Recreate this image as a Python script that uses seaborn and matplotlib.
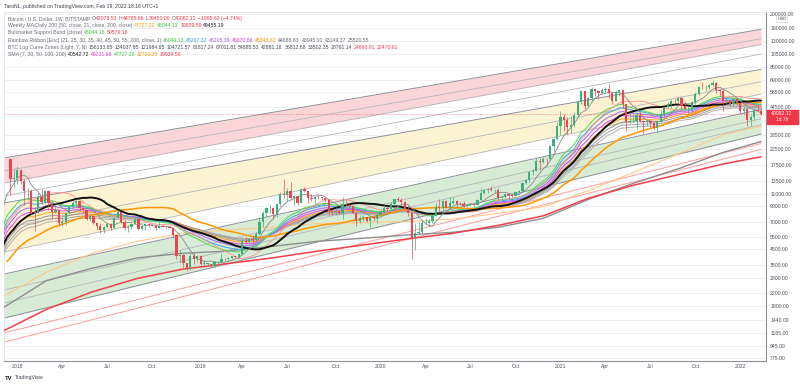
import matplotlib
matplotlib.use("Agg")
import matplotlib.pyplot as plt
from matplotlib.patches import Rectangle
from matplotlib import ticker
import numpy as np
import pandas as pd
import seaborn as sns

# --- weekly closes of 2017 (only used to warm up the moving averages) ---
close_2017 = [910, 820, 925, 915, 1015, 1000, 1050, 1180, 1270, 1230, 970, 970,
              1100, 1190, 1180, 1240, 1350, 1590, 1770, 2050, 2150, 2520, 2950, 2520,
              2450, 2500, 2500, 1930, 2750, 2750, 3230, 4050, 4100, 4350, 4600, 4150,
              3700, 3650, 4400, 4600, 5700, 6000, 6150, 7400, 5950, 8050, 9300, 11300,
              15000, 19100]

# --- weekly candles, first week starts 2017-12-18 (BTCUSD, Bitstamp, 1W) ---
week_high = [
    19200, 16500,
    17200, 16300, 14000, 12000, 11900, 8900, 11200, 11800, 11700, 11700, 9900, 9100, 8500,
    7500, 8200, 9000, 9800, 9900, 9700, 8900, 8500, 7750, 7800, 6900, 6850, 6500,
    6800, 6800, 7600, 8500, 8200, 7150, 6600, 6900, 7400, 7400, 6600, 6800, 6800,
    6650, 6650, 7000, 6600, 6500, 6550, 6400, 5600, 4400, 4150, 3600, 4200, 4250, 4100,
    4100, 3750, 3600, 3550, 3700, 3700, 4200, 3900, 3950, 4050, 4050, 4150,
    5300, 5450, 5400, 5650, 5900, 7500, 8300, 8900, 9100, 8800, 9400, 11300, 13900,
    12000, 13200, 10800, 10650, 11900, 12300, 11550, 10950, 10650, 10900, 10450, 10300, 10050,
    8600, 8800, 8400, 10500, 9900, 9500, 9100, 8200, 7850, 7750, 7600, 7500, 7700, 8050,
    8450, 9200, 9000, 9600, 10150, 10500, 10250, 9700, 9200, 8150, 6900, 6950,
    7200, 7450, 7300, 7750, 9450, 10050, 9900, 9850, 10400, 10350, 9950, 9550, 9800,
    9300, 9450, 9350, 10100, 12100, 11800, 12100, 12450, 11800, 12100, 10800, 11100, 10950,
    10950, 11500, 11700, 13350, 14000, 15950, 16500, 19400, 19450, 19900, 19400, 24300, 26900, 34800,
    41950, 40000, 37850, 38500, 41000, 49700, 58300, 57500, 52600, 61700, 60700, 58400,
    60100, 61200, 64900, 57000, 58400, 59500, 59600, 46600, 40900, 39500, 41300, 41100, 36000,
    36600, 35300, 34800, 34500, 42600, 44800, 48100, 50500, 50500, 52900, 52900, 48800, 45000,
    49200, 56600, 62900, 67000, 63700, 64300, 69000, 66300, 59300, 59200, 51900, 50200, 51900, 52100,
    47600, 44500, 43500, 38900, 42600, 45800, 44785.66]
week_low = [
    10800, 12000,
    12800, 12800, 9200, 10000, 7900, 6000, 8000, 9300, 9400, 8400, 7300, 8100, 6500,
    6500, 6600, 7900, 8700, 8900, 8300, 8000, 7200, 7100, 6700, 6100, 5800, 5800,
    6300, 6100, 6350, 7400, 6900, 6100, 5900, 6200, 6700, 6150, 6150, 6100, 6450,
    6500, 6150, 6300, 6400, 6300, 6300, 5500, 3800, 3600, 3350, 3150, 3200, 3550, 3650,
    3500, 3500, 3450, 3350, 3350, 3550, 3650, 3700, 3700, 3850, 3900, 3900,
    4100, 4900, 5000, 4950, 5150, 5650, 6400, 7500, 8000, 7450, 7550, 9000, 10300,
    9700, 10100, 9100, 9100, 9400, 11300, 9500, 9800, 9300, 10100, 9900, 9650, 7800,
    7750, 7800, 7900, 7300, 9000, 8700, 8000, 6500, 6800, 7100, 7000, 6450, 7050, 6850,
    7700, 8100, 8250, 8500, 9100, 9700, 9300, 8450, 7700, 3850, 4450, 5700,
    5850, 6750, 6500, 6800, 7650, 8100, 8200, 8700, 8650, 9250, 8900, 9200, 8900,
    8900, 9050, 9000, 9150, 9950, 11000, 11150, 11400, 11100, 9900, 9850, 10250, 10150,
    10400, 10550, 11200, 11400, 12950, 13250, 14800, 15750, 16200, 18100, 17600, 19000, 22000, 26100,
    28200, 30400, 28800, 29300, 32300, 37900, 47000, 43000, 44950, 49200, 53200, 50400,
    55400, 55500, 51500, 47000, 48800, 53000, 43800, 30000, 34200, 34800, 31000, 34800, 28800,
    32700, 32100, 31100, 29300, 35200, 37500, 43800, 43900, 46400, 46500, 42800, 42900, 39600,
    40800, 46900, 53900, 59500, 58000, 59500, 62300, 55600, 53300, 42000, 47100, 45600, 45600, 45700,
    40600, 39700, 33000, 32900, 36300, 41600, 39450.00]
week_close = [
    13900, 14100,
    16200, 13600, 11500, 11500, 8200, 8100, 10400, 9600, 11500, 9500, 8200, 8500, 6800,
    7000, 8000, 8900, 9400, 9700, 8700, 8500, 7350, 7700, 6800, 6500, 6150, 6400,
    6750, 6350, 7400, 8200, 7000, 6300, 6400, 6700, 7250, 6250, 6500, 6700, 6600,
    6550, 6300, 6500, 6450, 6400, 6350, 5600, 4000, 4100, 3600, 3250, 4000, 3850, 4050,
    3550, 3550, 3550, 3400, 3650, 3650, 3850, 3800, 3900, 4000, 3950, 4150,
    5150, 5050, 5300, 5200, 5750, 6950, 8100, 8700, 8700, 7900, 9350, 10850, 10800,
    11450, 10200, 10600, 9500, 11800, 11550, 10300, 10150, 10500, 10350, 10300, 10000, 8300,
    8150, 8300, 8000, 9250, 9200, 9050, 8100, 7050, 7400, 7500, 7100, 7500, 7400, 7750,
    8200, 8700, 8600, 9300, 10150, 9900, 9650, 8550, 8050, 5350, 5850, 5900,
    6800, 6900, 7100, 7700, 8900, 8750, 9700, 8700, 9450, 9750, 9350, 9300, 9000,
    9100, 9250, 9200, 9950, 11150, 11700, 11900, 11650, 11700, 10250, 10350, 10950, 10750,
    10650, 11350, 11500, 13050, 13750, 15480, 15950, 18700, 18200, 19350, 19250, 23850, 26450, 33000,
    38200, 36000, 32100, 33500, 38900, 48600, 57400, 45200, 51200, 59400, 57500, 55800,
    58200, 60000, 56200, 49100, 56400, 58300, 46500, 34700, 35600, 35800, 39100, 35500, 34700,
    35300, 34200, 31800, 35400, 39800, 44400, 47100, 49300, 48800, 51800, 45200, 43000, 43200,
    48200, 54700, 61500, 61300, 61300, 63300, 65500, 58700, 57300, 49400, 50100, 46700, 50800, 47300,
    41900, 43100, 36300, 38200, 42400, 42077.74, 40082.12]

# --- slow averages (quarterly samples) ---
slow_dates = ["2017-12-04", "2018-03-01", "2018-06-01", "2018-09-01", "2018-12-01",
              "2019-03-01", "2019-06-01", "2019-09-01", "2019-12-01", "2020-03-01",
              "2020-06-01", "2020-09-01", "2020-12-01", "2021-03-01", "2021-06-01",
              "2021-09-01", "2021-12-01", "2022-02-14"]
sma200_w = [1200, 1700, 2250, 2800, 3250, 3550, 3900, 4350, 4800, 5300,
            5800, 6600, 7700, 10200, 12600, 15000, 17800, 19939.59]
ema200_w = [1750, 2700, 3300, 3900, 4200, 4350, 4700, 5100, 5350, 5650,
            5900, 6400, 7400, 10000, 13000, 16500, 21500, 25520.55]
sma100_w = [2100, 3100, 4200, 5100, 5800, 6100, 6400, 6800, 6900, 7000,
            7300, 8000, 8900, 11500, 15500, 21000, 28500, 32720.35]

# --- BTC log curve zones: value at left edge / value now ---
curve_start = [19550, 15850, 13060, 10590, 9460, 6310, 4290,
               3005, 2320, 1880, 1475, 1160, 1000]
curve_end = [156133.65, 134037.85, 121984.65, 104721.57, 81817.24, 67011.81, 54885.53,
             42881.16, 36812.68, 33502.35, 28761.14, 24690.91, 22470.61]
curve_dates = ["2017-12-05", "2022-02-14"]

# --- axes labels ---
price_ticks = [200000, 160000, 130000, 105000, 85000, 69000, 56500, 44500, 28500, 22500,
               17500, 13500, 11000, 9000, 7000, 5500, 4500, 3500, 2800, 2200, 1800,
               1440, 1165, 945, 775]
time_ticks = ["2018-01-01", "2018-04-02", "2018-07-02", "2018-10-01", "2019-01-07",
              "2019-04-01", "2019-07-01", "2019-10-07", "2020-01-06", "2020-04-06",
              "2020-07-06", "2020-10-05", "2021-01-04", "2021-04-05", "2021-07-05",
              "2021-10-04", "2022-01-03"]
time_labels = ["2018", "Apr", "Jul", "Oct", "2019", "Apr", "Jul", "Oct", "2020", "Apr",
               "Jul", "Oct", "2021", "Apr", "Jul", "Oct", "2022"]

UP, DOWN = "#3bb07a", "#ef4352"
TXT = "#50535e"
W, H = 800, 387

sns.set_style("white")
plt.rcParams["font.family"] = ["Liberation Sans", "DejaVu Sans"]

fig = plt.figure(figsize=(W / 100, H / 100), dpi=100)
ax = fig.add_axes([4 / W, 1 - 361 / H, (766 - 4) / W, (361 - 12) / H])
ax.set_yscale("log")

weeks = pd.date_range("2017-12-18", periods=len(week_close), freq="7D")
all_dates = pd.date_range(end=weeks[-1], periods=len(close_2017) + len(week_close), freq="7D")
closes = pd.Series(close_2017 + week_close, index=all_dates)
df = pd.DataFrame({"date": weeks, "close": week_close, "high": week_high, "low": week_low})
df["open"] = closes.shift(1).loc[weeks].values

# log curve zone fills and lines
cd = pd.to_datetime(curve_dates)
for lo, hi, col in [(2, 0, "#fad6d8"), (6, 4, "#fcf3d2"), (10, 7, "#d8ebd4")]:
    ax.fill_between(cd, [curve_start[lo], curve_end[lo]], [curve_start[hi], curve_end[hi]],
                    color=col, lw=0, zorder=1)
for i, (a, b) in enumerate(zip(curve_start, curve_end)):
    if i >= 11:
        c, lw = "#ff9c9c", 0.7
    elif i in (0, 4, 7, 10):
        c, lw = "#8c8f99", 0.7
    else:
        c, lw = "#b4b6bd", 0.6
    ax.plot(cd, [a, b], color=c, lw=lw, zorder=2)

# slow averages
sd = pd.to_datetime(slow_dates)
sns.lineplot(x=sd, y=sma100_w, ax=ax, color="#ffc98a", lw=0.8, zorder=3)
sns.lineplot(x=sd, y=ema200_w, ax=ax, color="#8e8e8e", lw=1.0, zorder=3)
sns.lineplot(x=sd, y=sma200_w, ax=ax, color="#f0404a", lw=1.1, zorder=3)

# moving averages computed from the weekly closes
ribbon_spans = [55, 50, 45, 40, 35, 30, 25, 21]
ribbon_colors = ["#b3b3b3", "#a6a6a6", "#9a9a9a", "#ffa726", "#e64ce6", "#a56cf0", "#45a8f0", "#55dd55"]
for n, col in zip(ribbon_spans, ribbon_colors):
    ema = closes.ewm(span=n, adjust=False).mean()
    sns.lineplot(x=ema.index, y=ema.values, ax=ax, color=col, lw=0.75, zorder=4)

sma20 = closes.rolling(20).mean()
sma29 = closes.rolling(29).mean()
sma50 = closes.rolling(50).mean()
sma7 = closes.rolling(7).mean()
sns.lineplot(x=sma20.index, y=sma20.values, ax=ax, color="#ff8f8f", lw=0.6, zorder=4)
sns.lineplot(x=sma50.index, y=sma50.values, ax=ax, color="#ff9800", lw=1.1, zorder=5)
sns.lineplot(x=sma29.index, y=sma29.values, ax=ax, color="#111111", lw=1.4, zorder=5)
sns.lineplot(x=sma7.index, y=sma7.values, ax=ax, color="#8a8a8a", lw=0.6, zorder=5)

# candles
up = df["close"] >= df["open"]
colors = np.where(up, UP, DOWN)
ax.vlines(df["date"], df["low"], df["high"], colors=colors, lw=0.5, zorder=6)
body_lo = np.minimum(df["open"], df["close"])
body_hi = np.maximum(df["open"], df["close"])
body_hi = np.maximum(body_hi, body_lo * 1.006)
ax.bar(df["date"], body_hi - body_lo, bottom=body_lo, width=4.6, color=colors, lw=0, zorder=7)

# last price line
last = week_close[-1]
ax.axhline(last, color=DOWN, lw=0.5, ls=(0, (1, 1.5)), alpha=0.8, zorder=6)

# axes cosmetics
ax.set_xlim(pd.Timestamp("2017-12-05"), pd.Timestamp("2022-02-24"))
ax.set_ylim(738, 206500)
ax.yaxis.tick_right()
ax.yaxis.set_minor_locator(ticker.NullLocator())
ax.set_yticks(price_ticks)
ax.set_yticklabels([f"{v:.2f}" for v in price_ticks])
ax.set_xticks(pd.to_datetime(time_ticks))
ax.set_xticklabels(time_labels)
ax.tick_params(axis="both", length=0, labelsize=3.7, colors=TXT)
ax.tick_params(axis="y", pad=3)
ax.tick_params(axis="x", pad=2.2)
for v in price_ticks:
    ax.axhline(v, color="#eef0f4", lw=0.7, zorder=0)
ax.set_xlabel("")
ax.set_ylabel("")
for s in ("top", "left"):
    ax.spines[s].set_color("#e3e5ea")
    ax.spines[s].set_linewidth(0.6)
for s in ("right", "bottom"):
    ax.spines[s].set_color("#8e9099")
    ax.spines[s].set_linewidth(0.8)

# price tag on the right axis (value centred on the price, countdown below)
fig.canvas.draw()
renderer = fig.canvas.get_renderer()
y_last = ax.transData.transform((ax.get_xlim()[0], last))[1]
fig.patches.append(Rectangle((767 / W, (y_last - 10.5) / H), 31 / W, 14 / H,
                             transform=fig.transFigure, color="#f23645", zorder=10))
fig.text(782 / W, y_last / H, f"{last:.2f}", color="white", fontsize=3.7,
         ha="center", va="center", zorder=11)
fig.text(782 / W, (y_last - 6) / H, "1d 7h", color="white", fontsize=3.4,
         ha="center", va="center", zorder=11)
fig.text(782 / W, 1 - 19.5 / H, "USD", color=TXT, fontsize=3.2, ha="center", va="center",
         bbox=dict(boxstyle="round,pad=0.25", fc="white", ec="#c9ccd3", lw=0.4))

# legend text
def draw_runs(x_px, y_px, runs, size=3.7):
    x = x_px
    for txt, col in runs:
        if txt.startswith(" "):
            x += 1.6
            txt = txt.lstrip()
        t = fig.text(x / W, 1 - y_px / H, txt, color=col, fontsize=size, ha="left", va="center")
        x = t.get_window_extent(renderer=renderer).x1


R, G, O, B, P, M, K = "#f23645", "#34c934", "#ff9800", "#2f9ff0", "#a259f0", "#d83fd8", "#222222"
GR = "#6a6d78"
draw_runs(4, 6.5, [("TaroNL, published on TradingView.com, Feb 19, 2022 18:16 UTC+1", "#3c3f4a")])
draw_runs(8, 18.5, [("Bitcoin / U.S. Dollar, 1W, BITSTAMP", GR), (" O", GR), ("42078.53", R),
                    (" H", GR), ("44785.66", R), (" L", GR), ("39450.00", R), (" C", GR),
                    ("40082.12", R), (" \u22121995.62 (\u22124.74%)", R)])
draw_runs(8, 25.7, [("Weekly MA/Daily 200 (50, close, 21, close, 200, close)", GR),
                    (" 47727.22", O), (" 46044.13", G), (" 19939.59", R), (" 49455.19", K)])
draw_runs(8, 32.9, [("Bullmarket Support Band (close)", GR), (" 46044.13", G), (" 50579.16", R)])
draw_runs(8, 40.1, [("Rainbow Ribbon [Eric] (21, 25, 30, 35, 40, 45, 50, 55, 200, close, 1)", GR),
                    (" 46044.13", G), (" 46267.32", B), (" 46205.39", P), (" 45870.86", M),
                    (" 45345.32", O), (" 44688.83", GR), (" 43945.91", GR), (" 43149.37", GR),
                    (" 25520.55", GR)])
draw_runs(8, 47.3, [("BTC Log Curve Zones (Light, Y, N)", GR)]
          + [(f" {v:.2f}", "#454850") for v in curve_end[:11]]
          + [(f" {v:.2f}", R) for v in curve_end[11:]])
draw_runs(8, 54.5, [("SMA (7, 30, 50, 100, 200)", GR), (" 40542.72", K), (" 49231.66", M),
                    (" 47727.22", G), (" 32720.35", O), (" 19939.59", R)])

# TradingView mark
fig.text(5 / W, 1 - 378 / H, "TV", color="#131722", fontsize=4.2, weight="bold", va="center")
fig.text(15 / W, 1 - 378 / H, "TradingView", color="#3c3f4a", fontsize=3.7, va="center")

fig.savefig("out.png", dpi=100, facecolor="white")
